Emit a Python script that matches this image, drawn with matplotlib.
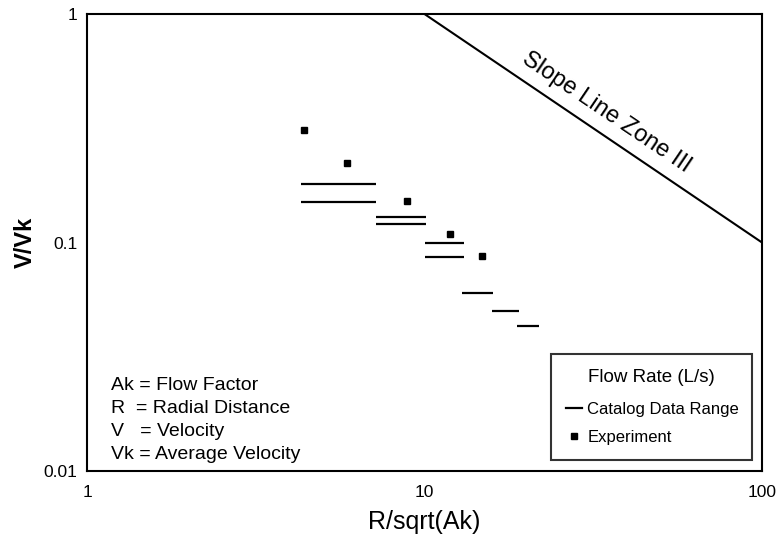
import matplotlib
matplotlib.use("Agg")
import matplotlib.pyplot as plt
from matplotlib.lines import Line2D
from matplotlib.ticker import FixedLocator, FixedFormatter, NullLocator

plt.rcParams['font.family'] = ['Liberation Sans', 'DejaVu Sans']

# Catalog data ranges (horizontal segments)
cat_x_lo = [4.3, 4.3, 7.2, 7.2, 10.05, 10.05, 12.9, 15.9, 18.8]
cat_x_hi = [7.2, 7.2, 10.1, 10.1, 13.1, 13.1, 16.0, 19.0, 21.8]
cat_y = [0.180, 0.151, 0.129, 0.120, 0.0998, 0.0864, 0.0601, 0.0502, 0.043]

# Experiment points
exp_x = [4.4, 5.9, 8.9, 11.9, 14.8]
exp_y = [0.31, 0.223, 0.152, 0.109, 0.087]

# Slope line zone III
slope_x = [10, 100]
slope_y = [1, 0.1]

x_ticks = [1, 10, 100]
x_tick_labels = ['1', '10', '100']
y_ticks = [0.01, 0.1, 1]
y_tick_labels = ['0.01', '0.1', '1']

definitions = ['Ak = Flow Factor', 'R  = Radial Distance', 'V   = Velocity', 'Vk = Average Velocity']

fig = plt.figure(figsize=(7.81, 5.50), dpi=100)
ax = fig.add_axes([0.1114, 0.1436, 0.8643, 0.8309])
ax.set_xscale('log')
ax.set_yscale('log')
ax.set_xlim(1, 100)
ax.set_ylim(0.01, 1)

ax.hlines(cat_y, cat_x_lo, cat_x_hi, colors='black', linewidth=1.6)
ax.plot(exp_x, exp_y, linestyle='none', marker='s', markersize=4.5, color='black')
ax.plot(slope_x, slope_y, color='black', linewidth=1.5)

ax.text(34.5, 0.372, 'Slope Line Zone III', rotation=-34, rotation_mode='anchor',
        ha='center', va='center', fontsize=17)

ax.xaxis.set_major_locator(FixedLocator(x_ticks))
ax.xaxis.set_major_formatter(FixedFormatter(x_tick_labels))
ax.yaxis.set_major_locator(FixedLocator(y_ticks))
ax.yaxis.set_major_formatter(FixedFormatter(y_tick_labels))
ax.xaxis.set_minor_locator(NullLocator())
ax.yaxis.set_minor_locator(NullLocator())
ax.tick_params(axis='both', length=0, labelsize=12.5)
ax.tick_params(axis='x', pad=10)
ax.tick_params(axis='y', pad=7)

for s in ax.spines.values():
    s.set_linewidth(1.5)
    s.set_color('black')

ax.set_xlabel('R/sqrt(Ak)', fontsize=18, labelpad=7)
ax.set_ylabel('V/Vk', fontsize=17, fontweight='bold')
ax.yaxis.set_label_coords(-0.075, 0.5)

for i, t in enumerate(definitions):
    ax.text(0.0356, 0.188 - i * 0.0503, t, transform=ax.transAxes,
            ha='left', va='center', fontsize=14)

handles = [Line2D([], [], color='black', linewidth=1.6),
           Line2D([], [], color='black', linestyle='none', marker='s', markersize=4)]
leg = ax.legend(handles, ['Catalog Data Range', 'Experiment'],
                title='Flow Rate (L/s)', loc='lower left',
                bbox_to_anchor=(0.687, 0.024, 0.298, 0.258), mode='expand',
                fontsize=12, title_fontsize=13.5, frameon=True, fancybox=False,
                handlelength=1.0, handletextpad=0.3, labelspacing=0.8,
                borderpad=0.9, borderaxespad=0)
leg.get_frame().set_edgecolor('black')
leg.get_frame().set_linewidth(1.5)
leg._legend_box.sep = 11

fig.savefig('out.png', dpi=100)
